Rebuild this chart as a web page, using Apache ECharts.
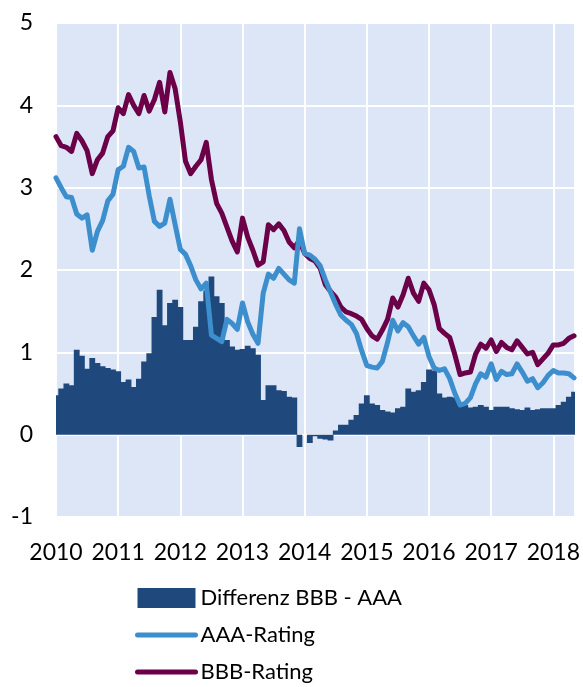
<!DOCTYPE html>
<html>
<head>
<meta charset="utf-8">
<script src="https://cdn.jsdelivr.net/npm/echarts@6/dist/echarts.min.js"></script>
<style>
  html, body { margin: 0; padding: 0; background: #fff; }
  #chart { width: 583px; height: 687px; }
</style>
</head>
<body>
<div id="chart"></div>
<script>
// monthly, Jan 2010 - May 2018
var years = [2010, 2011, 2012, 2013, 2014, 2015, 2016, 2017, 2018];
var lastMonth = 5;

var bbbRating = [
  3.62,3.51,3.49,3.44,3.66,3.57,3.45,3.17,3.34,3.42,
  3.62,3.69,3.97,3.90,4.13,4.00,3.90,4.12,3.93,4.07,
  4.28,3.92,4.40,4.20,3.80,3.32,3.17,3.26,3.34,3.55,
  3.10,2.81,2.69,2.52,2.35,2.22,2.63,2.40,2.24,2.06,
  2.10,2.55,2.49,2.56,2.48,2.34,2.27,2.36,2.20,2.14,
  2.11,2.02,1.82,1.74,1.67,1.55,1.49,1.47,1.44,1.40,
  1.29,1.20,1.16,1.27,1.40,1.66,1.55,1.70,1.90,1.72,
  1.62,1.84,1.76,1.58,1.29,1.23,1.18,0.97,0.73,0.75,
  0.76,0.98,1.10,1.05,1.15,1.01,1.12,1.06,1.03,1.14,
  1.06,0.98,1.00,0.85,0.92,0.99,1.09,1.09,1.11,1.17,
  1.20
];

var aaaRating = [
  3.12,3.00,2.89,2.88,2.68,2.63,2.67,2.24,2.47,2.60,
  2.84,2.92,3.22,3.26,3.49,3.44,3.24,3.25,2.90,2.59,
  2.53,2.57,2.86,2.55,2.25,2.19,2.05,1.88,1.77,1.84,
  1.21,1.17,1.13,1.40,1.35,1.28,1.60,1.37,1.22,1.11,
  1.72,1.95,1.90,2.02,1.95,1.88,1.84,2.50,2.20,2.18,
  2.13,2.05,1.88,1.73,1.58,1.45,1.39,1.34,1.23,1.02,
  0.84,0.82,0.81,0.89,1.12,1.39,1.26,1.36,1.31,1.20,
  1.10,1.18,0.95,0.81,0.78,0.80,0.68,0.50,0.36,0.38,
  0.45,0.62,0.74,0.70,0.86,0.67,0.77,0.73,0.74,0.86,
  0.76,0.65,0.68,0.57,0.63,0.72,0.78,0.75,0.75,0.74,
  0.69
];

var differenz = [
  0.48,0.56,0.62,0.60,1.03,0.96,0.80,0.93,0.87,0.83,
  0.81,0.79,0.77,0.64,0.67,0.58,0.68,0.89,0.99,1.43,
  1.76,1.33,1.60,1.64,1.55,1.15,1.15,1.31,1.62,1.75,
  1.92,1.68,1.60,1.15,1.07,1.03,1.04,1.08,1.05,0.97,
  0.42,0.60,0.60,0.54,0.53,0.46,0.45,-0.15,0.00,-0.10,
  -0.02,-0.05,-0.06,-0.07,0.05,0.12,0.12,0.18,0.24,0.38,
  0.48,0.38,0.36,0.30,0.28,0.27,0.32,0.34,0.56,0.52,
  0.54,0.64,0.79,0.78,0.50,0.45,0.46,0.45,0.36,0.36,
  0.33,0.34,0.36,0.34,0.30,0.34,0.34,0.34,0.32,0.31,
  0.30,0.33,0.30,0.31,0.32,0.32,0.32,0.36,0.40,0.46,
  0.52
];

var months = [];
for (var y = 0; y < years.length; y++) {
  var n = (y == years.length - 1) ? lastMonth : 12;
  for (var m = 1; m <= n; m++) months.push(years[y] + '-' + (m < 10 ? '0' + m : m));
}

var font = 'Lato, "Open Sans", sans-serif';
var chart = echarts.init(document.getElementById('chart'));
chart.setOption({
  animation: false,
  textStyle: { fontFamily: font },
  grid: {
    left: 56, right: 7, top: 23, bottom: 170,
    show: true, backgroundColor: '#dce6f7', borderWidth: 0
  },
  legend: {
    orient: 'vertical',
    left: 135, top: 587,
    padding: 0,
    itemWidth: 58, itemHeight: 20, itemGap: 15,
    textStyle: { fontSize: 22, lineHeight: 22, color: '#000', fontFamily: font },
    data: [
      { name: 'Differenz BBB - AAA', icon: 'rect' },
      { name: 'AAA-Rating', itemStyle: { opacity: 0 }, lineStyle: { width: 5, cap: 'round' } },
      { name: 'BBB-Rating', itemStyle: { opacity: 0 }, lineStyle: { width: 5, cap: 'round' } }
    ]
  },
  xAxis: {
    type: 'category',
    data: months,
    boundaryGap: false,
    axisLine: { show: false },
    axisTick: { show: false },
    axisLabel: {
      interval: 11,
      margin: 24,
      fontSize: 23,
      color: '#000',
      fontFamily: font,
      formatter: function (v) { return v.slice(0, 4); }
    },
    splitLine: { show: true, interval: 11, lineStyle: { color: '#fff', width: 2 } }
  },
  yAxis: {
    type: 'value',
    min: -1, max: 5, interval: 1,
    axisLine: { show: false },
    axisTick: { show: false },
    axisLabel: { fontSize: 23, color: '#000', margin: 23, fontFamily: font },
    splitLine: { lineStyle: { color: '#fff', width: 2 } }
  },
  series: [
    {
      name: 'Differenz BBB - AAA',
      type: 'bar',
      data: differenz,
      barWidth: '112%',
      barCategoryGap: 0,
      large: true,
      largeThreshold: 50,
      clip: true,
      itemStyle: { color: '#1f497d' }
    },
    {
      name: 'BBB-Rating',
      type: 'line',
      data: bbbRating,
      symbol: 'none',
      color: '#6b0049',
      lineStyle: { width: 5, color: '#6b0049', join: 'round', cap: 'round' }
    },
    {
      name: 'AAA-Rating',
      type: 'line',
      data: aaaRating,
      symbol: 'none',
      color: '#3d8ecc',
      lineStyle: { width: 5, color: '#3d8ecc', join: 'round', cap: 'round' }
    }
  ]
});
</script>
</body>
</html>
